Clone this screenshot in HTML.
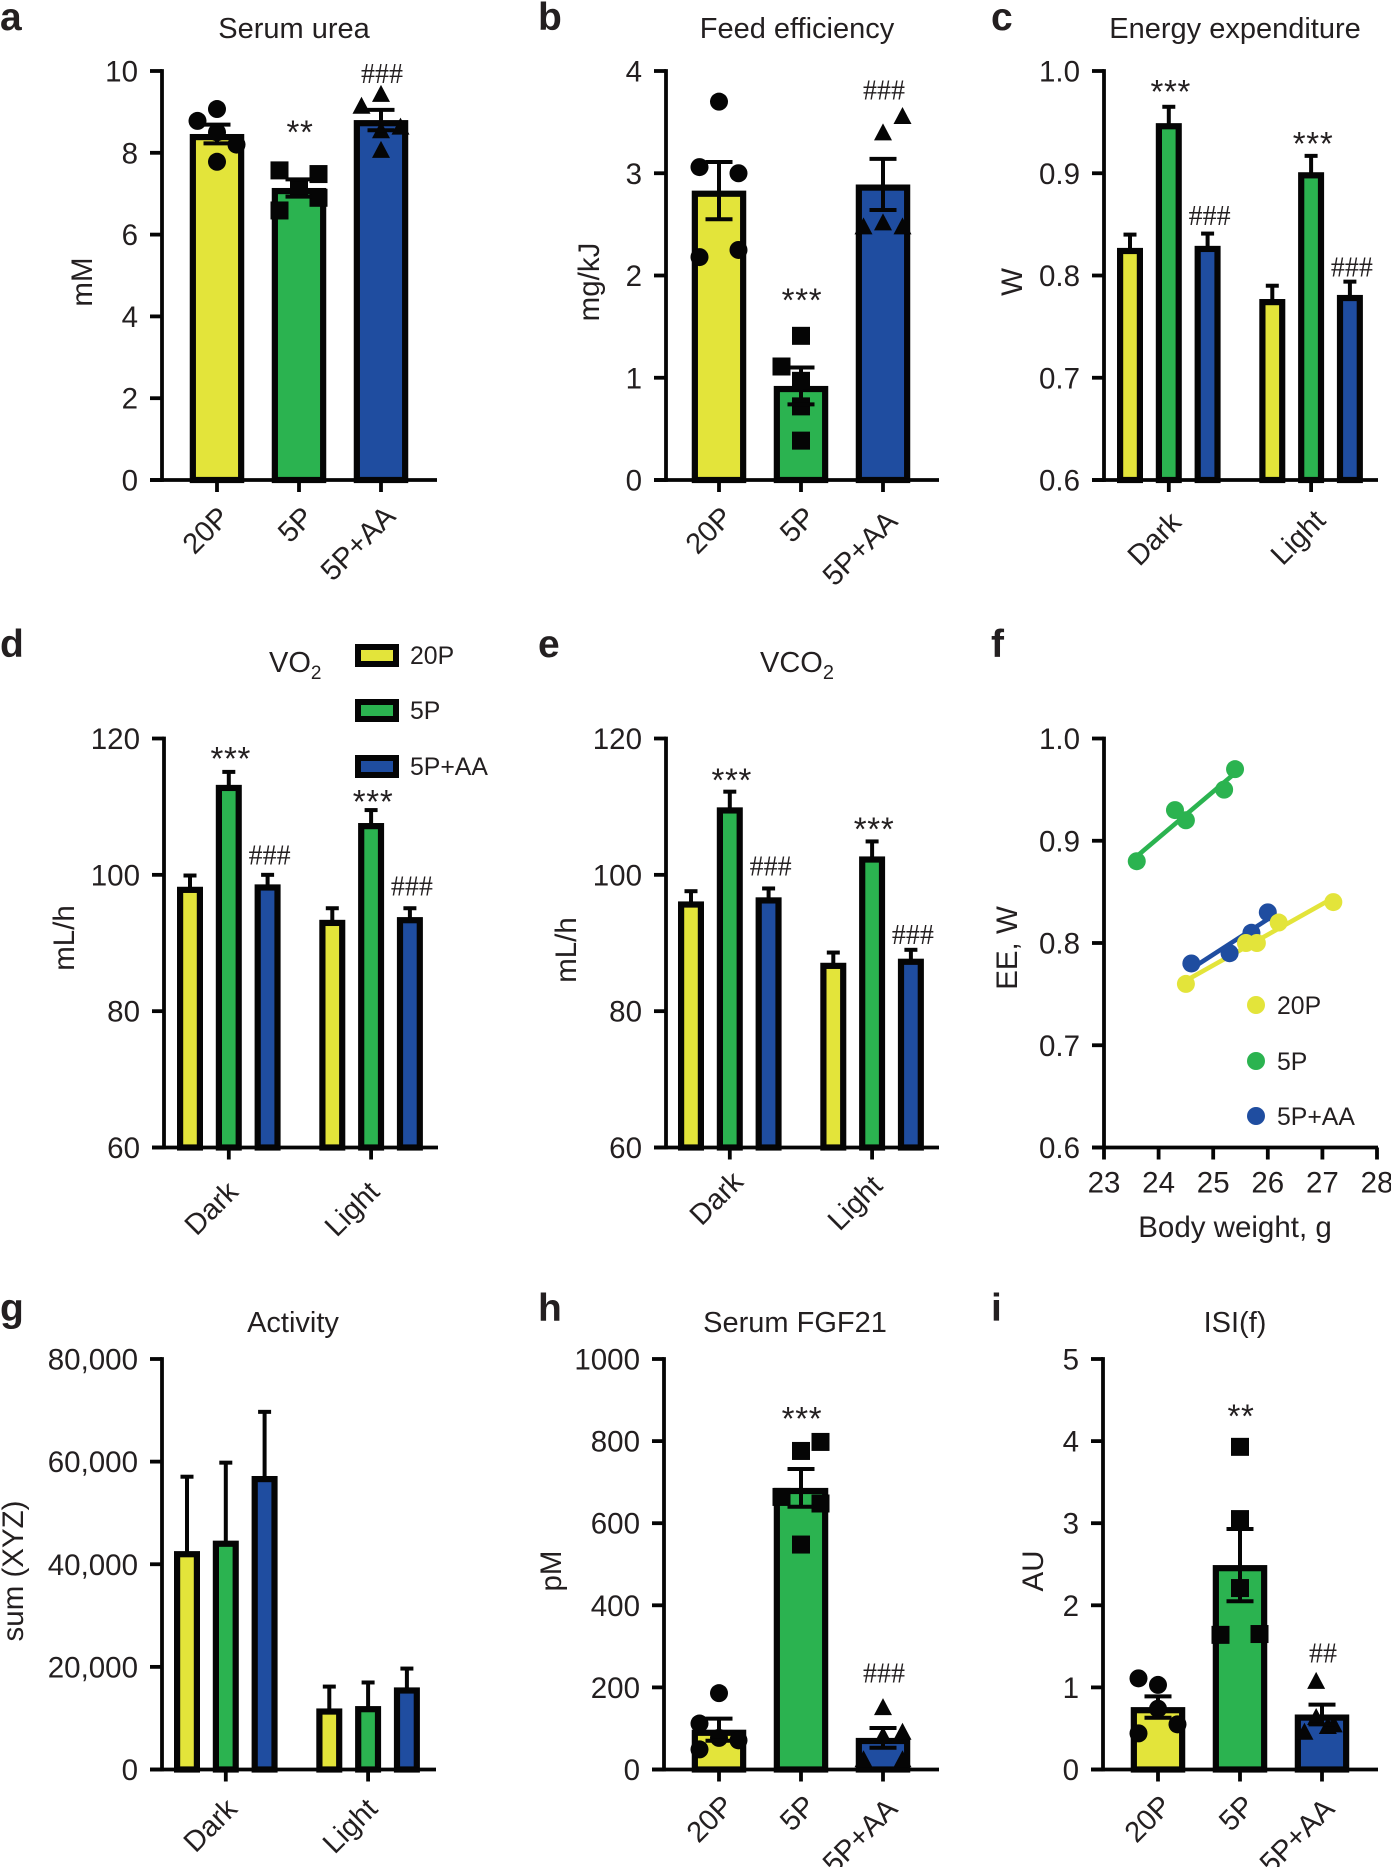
<!DOCTYPE html>
<html lang="en">
<head>
<meta charset="utf-8">
<title>Metabolic phenotype panels</title>
<style>
html,body{margin:0;padding:0;background:#fff}
svg{display:block}
text{font-family:"Liberation Sans",sans-serif;fill:#231f20}
.letter{font-size:39px;font-weight:700}
.title{font-size:29px}
.axis-title{font-size:29.5px}
.tick{font-size:29.5px}
.xtick{font-size:29px}
.legend{font-size:24.8px}
.star{font-size:33px;letter-spacing:.7px;text-anchor:middle}
.hash{font-family:"Liberation Serif",serif;font-size:28px;text-anchor:middle}
</style>
</head>
<body>
<svg id="fig" xmlns="http://www.w3.org/2000/svg" width="1391" height="1867" viewBox="0 0 1391 1867">
<rect x="0" y="0" width="1391" height="1867" fill="#fff"/>

<text class="letter" x="0" y="30">a</text>
<text class="letter" x="538" y="30">b</text>
<text class="letter" x="991" y="30">c</text>
<text class="letter" x="0" y="657">d</text>
<text class="letter" x="538" y="657">e</text>
<text class="letter" x="991" y="657">f</text>
<text class="letter" x="0" y="1321">g</text>
<text class="letter" x="538" y="1321">h</text>
<text class="letter" x="991" y="1321">i</text>

<text class="title" x="294" y="38" text-anchor="middle">Serum urea</text>
<text class="title" x="797" y="38" text-anchor="middle">Feed efficiency</text>
<text class="title" x="1235" y="38" text-anchor="middle">Energy expenditure</text>
<text class="title" x="269" y="672">VO<tspan font-size="19" dy="7">2</tspan></text>
<text class="title" x="760" y="672">VCO<tspan font-size="20" dy="7">2</tspan></text>
<text class="title" x="293" y="1332" text-anchor="middle">Activity</text>
<text class="title" x="795" y="1332" text-anchor="middle">Serum FGF21</text>
<text class="title" x="1235" y="1332" text-anchor="middle">ISI(f)</text>

<text class="axis-title" text-anchor="middle" transform="translate(92 282) rotate(-90)">mM</text>
<text class="axis-title" text-anchor="middle" transform="translate(599 282) rotate(-90)">mg/kJ</text>
<text class="axis-title" text-anchor="middle" transform="translate(1022 282) rotate(-90)">W</text>
<text class="axis-title" text-anchor="middle" transform="translate(74 938) rotate(-90)">mL/h</text>
<text class="axis-title" text-anchor="middle" transform="translate(576 950) rotate(-90)">mL/h</text>
<text class="axis-title" text-anchor="middle" transform="translate(1017 948) rotate(-90)">EE, W</text>
<text class="axis-title" x="1235" y="1237" text-anchor="middle">Body weight, g</text>
<text class="axis-title" text-anchor="middle" transform="translate(23 1571) rotate(-90)">sum (XYZ)</text>
<text class="axis-title" text-anchor="middle" transform="translate(561 1571) rotate(-90)">pM</text>
<text class="axis-title" text-anchor="middle" transform="translate(1043 1571) rotate(-90)">AU</text>

<g>
<rect x="358" y="647" width="38" height="17" fill="#e3e43a" stroke="#050505" stroke-width="6"/>
<text class="legend" x="410" y="664">20P</text>
<rect x="358" y="702" width="38" height="17" fill="#2bb350" stroke="#050505" stroke-width="6"/>
<text class="legend" x="410" y="719">5P</text>
<rect x="358" y="758" width="38" height="17" fill="#1f4da0" stroke="#050505" stroke-width="6"/>
<text class="legend" x="410" y="775">5P+AA</text>
</g>
<g>
<circle cx="1256" cy="1005" r="9" fill="#e3e43a"/>
<text class="legend" x="1277" y="1014">20P</text>
<circle cx="1256" cy="1061" r="9" fill="#2bb350"/>
<text class="legend" x="1277" y="1070">5P</text>
<circle cx="1256" cy="1116" r="9" fill="#1f4da0"/>
<text class="legend" x="1277" y="1125">5P+AA</text>
</g>
</svg>

<script>
// ---------- Panel a: Serum urea ----------
const aCategories = ['20P', '5P', '5P+AA'];
const aTicks = [0, 2, 4, 6, 8, 10];
const aMeans = [8.46, 7.14, 8.8];
const aErrors = [0.23, 0.21, 0.25];
const aPoints20P = [8.78, 9.07, 8.5, 8.2, 7.78];
const aPoints5P = [7.57, 7.48, 7.17, 6.9, 6.59];
const aPointsAA = [9.15, 9.44, 8.64, 8.55, 8.07];
const aSlots20P = [-1, 0, 0, 1, 0];
const aSlots5P = [-1, 1, 0, 1, -1];
const aSlotsAA = [-1, 0, 1, 0, 0];
const aNoteLabels = ['**', '###'];
const aNoteBars = [1, 2];
const aNoteValues = [8.63, 9.93];

// ---------- Panel b: Feed efficiency ----------
const bCategories = ['20P', '5P', '5P+AA'];
const bTicks = [0, 1, 2, 3, 4];
const bMeans = [2.83, 0.92, 2.89];
const bErrors = [0.28, 0.18, 0.25];
const bPoints20P = [3.7, 3.06, 3.0, 2.18, 2.25];
const bPoints5P = [1.41, 1.11, 0.97, 0.72, 0.385];
const bPointsAA = [3.56, 3.4, 2.48, 2.52, 2.48];
const bSlots20P = [0, -1, 1, -1, 1];
const bSlots5P = [0, -1, 0, 0, 0];
const bSlotsAA = [1, 0, -1, 0, 1];
const bNoteLabels = ['***', '###'];
const bNoteBars = [1, 2];
const bNoteValues = [1.81, 3.81];

// ---------- Panel c: Energy expenditure ----------
const cCategories = ['Dark', 'Light'];
const cTicks = [0.6, 0.7, 0.8, 0.9, 1.0];
const c20P = [0.827, 0.777];
const c5P = [0.949, 0.901];
const cAA = [0.829, 0.781];
const cErr20P = [0.013, 0.013];
const cErr5P = [0.016, 0.016];
const cErrAA = [0.012, 0.013];
const cNoteLabels = ['***', '###', '***', '###'];
const cNoteGroups = [0, 0, 1, 1];
const cNoteSeries = [1, 2, 1, 2];
const cNoteValues = [0.985, 0.858, 0.934, 0.808];

// ---------- Panel d: VO2 ----------
const dCategories = ['Dark', 'Light'];
const dTicks = [60, 80, 100, 120];
const d20P = [98.25, 93.4];
const d5P = [113.2, 107.6];
const dAA = [98.6, 93.8];
const dErr20P = [1.65, 1.7];
const dErr5P = [1.9, 1.9];
const dErrAA = [1.4, 1.3];
const dNoteLabels = ['***', '###', '***', '###'];
const dNoteGroups = [0, 0, 1, 1];
const dNoteSeries = [1, 2, 1, 2];
const dNoteValues = [117.8, 102.8, 111.5, 98.3];

// ---------- Panel e: VCO2 ----------
const eCategories = ['Dark', 'Light'];
const eTicks = [60, 80, 100, 120];
const e20P = [96.1, 87.1];
const e5P = [109.9, 102.7];
const eAA = [96.7, 87.7];
const eErr20P = [1.5, 1.5];
const eErr5P = [2.3, 2.2];
const eErrAA = [1.3, 1.3];
const eNoteLabels = ['***', '###', '***', '###'];
const eNoteGroups = [0, 0, 1, 1];
const eNoteSeries = [1, 2, 1, 2];
const eNoteValues = [114.7, 101.2, 107.5, 91.2];

// ---------- Panel f: EE vs body weight ----------
const fXTicks = [23, 24, 25, 26, 27, 28];
const fYTicks = [0.6, 0.7, 0.8, 0.9, 1.0];
const fWeight20P = [24.5, 25.6, 25.8, 26.2, 27.2];
const fEE20P = [0.76, 0.80, 0.80, 0.82, 0.84];
const fWeight5P = [23.6, 24.3, 24.5, 25.2, 25.4];
const fEE5P = [0.88, 0.93, 0.92, 0.95, 0.97];
const fWeightAA = [24.6, 25.3, 25.7, 26.0];
const fEEAA = [0.78, 0.79, 0.81, 0.83];

// ---------- Panel g: Activity ----------
const gCategories = ['Dark', 'Light'];
const gTicks = [0, 20000, 40000, 60000, 80000];
const gTickLabels = ['0', '20,000', '40,000', '60,000', '80,000'];
const g20P = [42560, 11900];
const g5P = [44600, 12360];
const gAA = [57200, 16000];
const gErr20P = [14500, 4260];
const gErr5P = [15200, 4600];
const gErrAA = [12500, 3670];

// ---------- Panel h: Serum FGF21 ----------
const hCategories = ['20P', '5P', '5P+AA'];
const hTicks = [0, 200, 400, 600, 800, 1000];
const hMeans = [97, 686, 77];
const hErrors = [27, 46, 24];
const hPoints20P = [186, 112, 77, 71, 49];
const hPoints5P = [798, 776, 664, 648, 548];
const hPointsAA = [152, 92, 83, 25, 25];
const hSlots20P = [0, -1, 0, 1, -1];
const hSlots5P = [1, 0, -1, 1, 0];
const hSlotsAA = [0, 1, 0, -1, 1];
const hNoteLabels = ['***', '###'];
const hNoteBars = [1, 2];
const hNoteValues = [868, 234];

// ---------- Panel i: ISI(f) ----------
const iCategories = ['20P', '5P', '5P+AA'];
const iTicks = [0, 1, 2, 3, 4, 5];
const iMeans = [0.76, 2.49, 0.67];
const iErrors = [0.13, 0.44, 0.12];
const iPoints20P = [1.11, 1.03, 0.74, 0.55, 0.44];
const iPoints5P = [3.93, 3.05, 2.21, 1.64, 1.65];
const iPointsAA = [1.08, 0.64, 0.46, 0.53, 0.55];
const iSlots20P = [-1, 0, 0, 1, -1];
const iSlots5P = [0, 0, 0, -1, 1];
const iSlotsAA = [-0.3, -0.3, -0.9, 0.3, 0.6];
const iNoteLabels = ['**', '##'];
const iNoteBars = [1, 2];
const iNoteValues = [4.37, 1.41];

// ---------- Drawing ----------
const COLORS = ['#e3e43a', '#2bb350', '#1f4da0'];
const INK = '#050505';
const SVG_NS = 'http://www.w3.org/2000/svg';
const fig = document.getElementById('fig');

function mk(tag, attrs, name, parent) {
  const el = document.createElementNS(SVG_NS, tag);
  for (const k in attrs) el.setAttribute(k, attrs[k]);
  
  
  (parent || fig).appendChild(el);
  return el;
}

function linear(d0, d1, r0, r1) {
  return function (v) { return r0 + (v - d0) * (r1 - r0) / (d1 - d0); };
}

function line(x1, y1, x2, y2, name, parent, w) {
  return mk('line', { x1: x1, y1: y1, x2: x2, y2: y2, stroke: INK, 'stroke-width': w || 3.8 }, name, parent);
}

function axes(p, g, y, ticks, labels) {
  line(p.axisX, p.top - 1.9, p.axisX, p.bottom + 1.9, 'y-axis-line', g);
  line(p.axisX - 12, p.bottom, p.xEnd, p.bottom, 'x-axis-line', g);
  ticks.forEach(function (t, i) {
    line(p.axisX - 12, y(t), p.axisX, y(t), 'y-tick', g);
    const lab = mk('text', { class: 'tick', x: p.axisX - 24, y: y(t) + 10.5, 'text-anchor': 'end' }, 'y-tick-label', g);
    lab.textContent = labels[i];
  });
}

function xCategory(p, g, x, text, dx, dy) {
  line(x, p.bottom, x, p.bottom + 12, 'x-tick', g);
  const lab = mk('text', { class: 'xtick', 'text-anchor': 'end', transform: 'translate(' + (x + dx) + ' ' + (p.bottom + dy) + ') rotate(-45)' }, 'x-tick-label', g);
  lab.textContent = text;
}

function bar(cx, w, top, bottom, color, name, g) {
  const sw = 6.2;
  mk('rect', { x: cx - w / 2 + sw / 2, y: top + sw / 2, width: w - sw, height: Math.max(0, bottom - top - sw / 2), fill: color, stroke: INK, 'stroke-width': sw }, name, g);
}

function marker(kind, x, y, g) {
  if (kind === 0) {
    mk('circle', { cx: x, cy: y, r: 9, fill: INK }, 'data-point-circle', g);
  } else if (kind === 1) {
    mk('rect', { x: x - 9, y: y - 9, width: 18, height: 18, fill: INK }, 'data-point-square', g);
  } else {
    mk('polygon', { points: (x - 9) + ',' + (y + 8) + ' ' + (x + 9) + ',' + (y + 8) + ' ' + x + ',' + (y - 9), fill: INK }, 'data-point-triangle', g);
  }
}

function note(label, x, y, g) {
  const isStar = label.charAt(0) === '*';
  const t = mk('text', { class: isStar ? 'star' : 'hash', x: x, y: y + (isStar ? 16.7 : 9) }, isStar ? 'significance-stars' : 'significance-hashes', g);
  t.textContent = label;
}

function dotBarPanel(p) {
  const g = mk('g', {}, 'panel-' + p.id);
  const y = linear(p.ticks[0], p.ticks[p.ticks.length - 1], p.bottom, p.top);
  p.means.forEach(function (m, i) {
    const cx = p.first + i * 82;
    bar(cx, 54.5, y(m), p.bottom, COLORS[i], 'bar-' + p.categories[i], g);
    p.points[i].forEach(function (v, j) {
      marker(i, cx + p.slots[i][j] * 19.5, y(v), g);
    });
    const hi = y(m + p.errors[i]);
    const lo = y(m - p.errors[i]);
    line(cx, hi, cx, lo, 'error-bar', g, 4);
    line(cx - 13.5, hi, cx + 13.5, hi, 'error-cap-upper', g, 4);
    line(cx - 13.5, lo, cx + 13.5, lo, 'error-cap-lower', g, 4);
  });
  axes(p, g, y, p.ticks, p.ticks.map(String));
  p.categories.forEach(function (c, i) {
    xCategory(p, g, p.first + i * 82, c, p.labelDx[i], p.labelDy[i]);
  });
  if (p.noteLabels) p.noteLabels.forEach(function (l, i) {
    note(l, p.first + p.noteBars[i] * 82 + 1, y(p.noteValues[i]), g);
  });
}

function groupBarPanel(p) {
  const g = mk('g', {}, 'panel-' + p.id);
  const y = linear(p.ticks[0], p.ticks[p.ticks.length - 1], p.bottom, p.top);
  const xOf = function (grp, s) { return p.first + grp * 142.3 + s * 38.8; };
  p.categories.forEach(function (c, grp) {
    p.series.forEach(function (vals, s) {
      const cx = xOf(grp, s);
      const cap = y(vals[grp] + p.errs[s][grp]);
      line(cx, cap, cx, y(vals[grp]) + 3, 'error-bar', g, 4);
      line(cx - 6.5, cap, cx + 6.5, cap, 'error-cap', g, 4);
      bar(cx, 26, y(vals[grp]), p.bottom, COLORS[s], 'bar-' + c + '-' + s, g);
    });
  });
  axes(p, g, y, p.ticks, p.tickLabels);
  p.categories.forEach(function (c, grp) {
    xCategory(p, g, xOf(grp, 1), c, p.labelDx[grp], p.labelDy[grp]);
  });
  if (p.noteLabels) p.noteLabels.forEach(function (l, i) {
    note(l, xOf(p.noteGroups[i], p.noteSeries[i]) + 2, y(p.noteValues[i]), g);
  });
}

function fitLine(xs, ys) {
  const n = xs.length;
  const mx = xs.reduce(function (a, b) { return a + b; }, 0) / n;
  const my = ys.reduce(function (a, b) { return a + b; }, 0) / n;
  let sxy = 0, sxx = 0;
  xs.forEach(function (x, i) { sxy += (x - mx) * (ys[i] - my); sxx += (x - mx) * (x - mx); });
  const slope = sxy / sxx;
  return function (x) { return my + slope * (x - mx); };
}

function scatterPanel() {
  const p = { axisX: 1104, xEnd: 1378, top: 738.5, bottom: 1147.5 };
  const g = mk('g', {}, 'panel-f');
  const y = linear(0.6, 1.0, p.bottom, p.top);
  const x = linear(23, 28, 1104, 1377);
  const sets = [
    { xs: fWeight20P, ys: fEE20P, color: COLORS[0], name: '20p' },
    { xs: fWeightAA, ys: fEEAA, color: COLORS[2], name: '5p-aa' },
    { xs: fWeight5P, ys: fEE5P, color: COLORS[1], name: '5p' }
  ];
  sets.forEach(function (s) {
    const f = fitLine(s.xs, s.ys);
    const x0 = Math.min.apply(null, s.xs);
    const x1 = Math.max.apply(null, s.xs);
    mk('line', { x1: x(x0), y1: y(f(x0)), x2: x(x1), y2: y(f(x1)), stroke: s.color, 'stroke-width': 4.6 }, 'fit-line-' + s.name, g);
  });
  [sets[2], sets[1], sets[0]].forEach(function (s) {
    s.xs.forEach(function (v, i) {
      mk('circle', { cx: x(v), cy: y(s.ys[i]), r: 9, fill: s.color }, 'point-' + s.name, g);
    });
  });
  axes(p, g, y, fYTicks, fYTicks.map(function (t) { return t.toFixed(1); }));
  fXTicks.forEach(function (t) {
    line(x(t), p.bottom, x(t), p.bottom + 12, 'x-tick', g);
    const lab = mk('text', { class: 'tick', x: x(t), y: 1192.5, 'text-anchor': 'middle' }, 'x-tick-label', g);
    lab.textContent = String(t);
  });
}

dotBarPanel({ id: 'a', axisX: 162, xEnd: 437, top: 71, bottom: 480, first: 217, categories: aCategories, ticks: aTicks, means: aMeans, errors: aErrors,
  points: [aPoints20P, aPoints5P, aPointsAA], slots: [aSlots20P, aSlots5P, aSlotsAA],
  noteLabels: aNoteLabels, noteBars: aNoteBars, noteValues: aNoteValues, labelDx: [14, 16, 16], labelDy: [39, 39, 38] });
dotBarPanel({ id: 'b', axisX: 666, xEnd: 939, top: 71, bottom: 480, first: 719, categories: bCategories, ticks: bTicks, means: bMeans, errors: bErrors,
  points: [bPoints20P, bPoints5P, bPointsAA], slots: [bSlots20P, bSlots5P, bSlotsAA],
  noteLabels: bNoteLabels, noteBars: bNoteBars, noteValues: bNoteValues, labelDx: [15, 16, 16], labelDy: [39, 39, 43] });
groupBarPanel({ id: 'c', axisX: 1104, xEnd: 1378, top: 71, bottom: 480, first: 1130, categories: cCategories, ticks: cTicks, tickLabels: cTicks.map(function (t) { return t.toFixed(1); }),
  series: [c20P, c5P, cAA], errs: [cErr20P, cErr5P, cErrAA],
  noteLabels: cNoteLabels, noteGroups: cNoteGroups, noteSeries: cNoteSeries, noteValues: cNoteValues, labelDx: [14, 16], labelDy: [44, 42] });
groupBarPanel({ id: 'd', axisX: 164, xEnd: 438, top: 738.5, bottom: 1147.5, first: 190, categories: dCategories, ticks: dTicks, tickLabels: dTicks.map(String),
  series: [d20P, d5P, dAA], errs: [dErr20P, dErr5P, dErrAA],
  noteLabels: dNoteLabels, noteGroups: dNoteGroups, noteSeries: dNoteSeries, noteValues: dNoteValues, labelDx: [11, 10], labelDy: [46, 46] });
groupBarPanel({ id: 'e', axisX: 666, xEnd: 939, top: 738.5, bottom: 1147.5, first: 691, categories: eCategories, ticks: eTicks, tickLabels: eTicks.map(String),
  series: [e20P, e5P, eAA], errs: [eErr20P, eErr5P, eErrAA],
  noteLabels: eNoteLabels, noteGroups: eNoteGroups, noteSeries: eNoteSeries, noteValues: eNoteValues, labelDx: [15, 12], labelDy: [36, 40] });
scatterPanel();
groupBarPanel({ id: 'g', axisX: 162, xEnd: 436, top: 1359, bottom: 1769.5, first: 187, categories: gCategories, ticks: gTicks, tickLabels: gTickLabels,
  series: [g20P, g5P, gAA], errs: [gErr20P, gErr5P, gErrAA], labelDx: [13, 11], labelDy: [41, 41] });
dotBarPanel({ id: 'h', axisX: 664, xEnd: 939, top: 1359, bottom: 1769.5, first: 719, categories: hCategories, ticks: hTicks, means: hMeans, errors: hErrors,
  points: [hPoints20P, hPoints5P, hPointsAA], slots: [hSlots20P, hSlots5P, hSlotsAA],
  noteLabels: hNoteLabels, noteBars: hNoteBars, noteValues: hNoteValues, labelDx: [16, 16, 16], labelDy: [38, 38, 41] });
dotBarPanel({ id: 'i', axisX: 1103, xEnd: 1378, top: 1359, bottom: 1769.5, first: 1158, categories: iCategories, ticks: iTicks, means: iMeans, errors: iErrors,
  points: [iPoints20P, iPoints5P, iPointsAA], slots: [iSlots20P, iSlots5P, iSlotsAA],
  noteLabels: iNoteLabels, noteBars: iNoteBars, noteValues: iNoteValues, labelDx: [15, 16, 14], labelDy: [38, 38, 41] });
</script>
</body>
</html>
